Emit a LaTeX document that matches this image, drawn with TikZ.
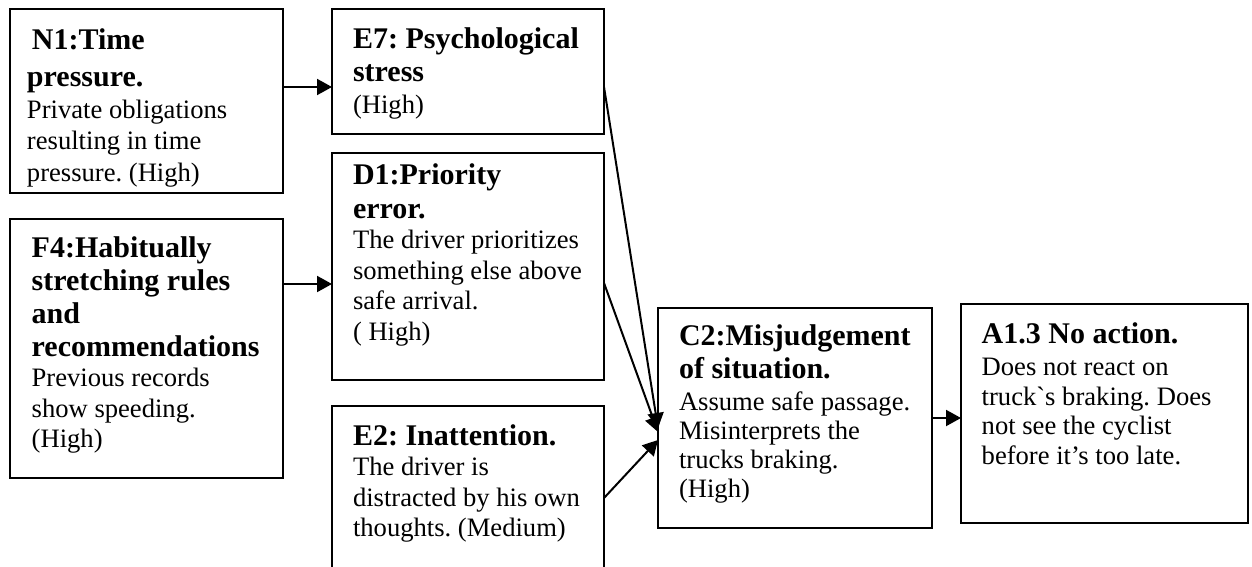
\documentclass[tikz,border=0pt]{standalone}
\usepackage{fontspec}
\setmainfont{Liberation Serif}
\usetikzlibrary{arrows.meta}

% heading and body fonts of the cause boxes; the optional argument is the line pitch
\newcommand\hdfont[1][33]{\fontsize{30}{#1}\selectfont\bfseries}
\newcommand\bdfont[1][30.6]{\fontsize{26.6}{#1}\selectfont\mdseries}
\newcommand\rowline[1]{\hbox{#1}}
\frenchspacing

\begin{document}
\begin{tikzpicture}[x=1pt,y=-1pt,
  box/.style={draw, line width=2pt, anchor=north west, inner sep=0pt, outer sep=0pt},
  txt/.style={anchor=base west, inner sep=0pt, outer sep=0pt},
  link/.style={line width=2pt, -{Triangle[length=15pt,width=16pt]}}]
\useasboundingbox (0,0) rectangle (1252,567);
\clip (0,0) rectangle (1252,567);

% boxes
\node[box, minimum width=273pt, minimum height=184pt] (n1) at (10,9) {};
\node[box, minimum width=272pt, minimum height=125pt] (e7) at (332,9) {};
\node[box, minimum width=272pt, minimum height=227pt] (d1) at (332,153) {};
\node[box, minimum width=273pt, minimum height=259pt] (f4) at (10,219) {};
\node[box, minimum width=272pt, minimum height=200pt] (e2) at (332,406) {};
\node[box, minimum width=274pt, minimum height=220pt] (c2) at (658,308) {};
\node[box, minimum width=287pt, minimum height=219pt] (a1) at (961,304) {};

% texts
\node[txt] (n1t) at ([xshift=17pt,yshift=-41pt]n1.north west)
  {\vtop{\hdfont[37]\rowline{\hspace{5pt}N1:Time}\rowline{pressure.}%
   \bdfont[31.5]\rowline{Private obligations}\rowline{resulting in time}\rowline{pressure. (High)}}};
\node[txt] (e7t) at ([xshift=21pt,yshift=-40pt]e7.north west)
  {\vtop{\hdfont\rowline{E7: Psychological}\rowline{stress}%
   \bdfont[31.5]\rowline{(High)}}};
\node[txt] (d1t) at ([xshift=21pt,yshift=-31pt]d1.north west)
  {\vtop{\hdfont[34]\rowline{D1:Priority}\rowline{error.}%
   \bdfont\rowline{The driver prioritizes}\rowline{something else above}\rowline{safe arrival.}\rowline{( High)}}};
\node[txt] (f4t) at ([xshift=21.7pt,yshift=-38pt]f4.north west)
  {\vtop{\hdfont\rowline{F4:Habitually}\rowline{stretching rules}\rowline{and}\rowline{recommendations}%
   \bdfont\rowline{Previous records}\rowline{show speeding.}\rowline{(High)}}};
\node[txt] (e2t) at ([xshift=21pt,yshift=-39pt]e2.north west)
  {\vtop{\hdfont\rowline{E2: Inattention.}%
   \bdfont\rowline{The driver is}\rowline{distracted by his own}\rowline{thoughts. (Medium)}}};
\node[txt] (c2t) at ([xshift=21pt,yshift=-37pt]c2.north west)
  {\vtop{\hdfont\rowline{C2:Misjudgement}\rowline{of situation.}%
   \bdfont[29]\kern3pt\rowline{Assume safe passage.}\rowline{Misinterprets the}\rowline{trucks braking.}\rowline{(High)}}};
\node[txt] (a1t) at ([xshift=20.7pt,yshift=-39pt]a1.north west)
  {\vtop{\hdfont\rowline{A1.3 No action.}%
   \bdfont[29.5]\kern3pt\rowline{Does not react on}\rowline{truck\textasciigrave s braking. Does}\rowline{not see the cyclist}\rowline{before it’s too late.}}};

% connectors
\draw[link] ([yshift=-78pt]n1.north east) -- ([yshift=-78pt]e7.north west);
\draw[link] ([yshift=-65pt]f4.north east) -- ([yshift=-131pt]d1.north west);
\draw[link] ([yshift=-78pt]e7.north east) -- ([yshift=-120pt]c2.north west);
\draw[link] ([yshift=-130pt]d1.north east) -- ([yshift=-124pt]c2.north west);
\draw[link] ([yshift=-92pt]e2.north east) -- ([yshift=-132pt]c2.north west);
\draw[link] ([yshift=-110pt]c2.north east) -- ([yshift=-114pt]a1.north west);
\end{tikzpicture}
\end{document}
